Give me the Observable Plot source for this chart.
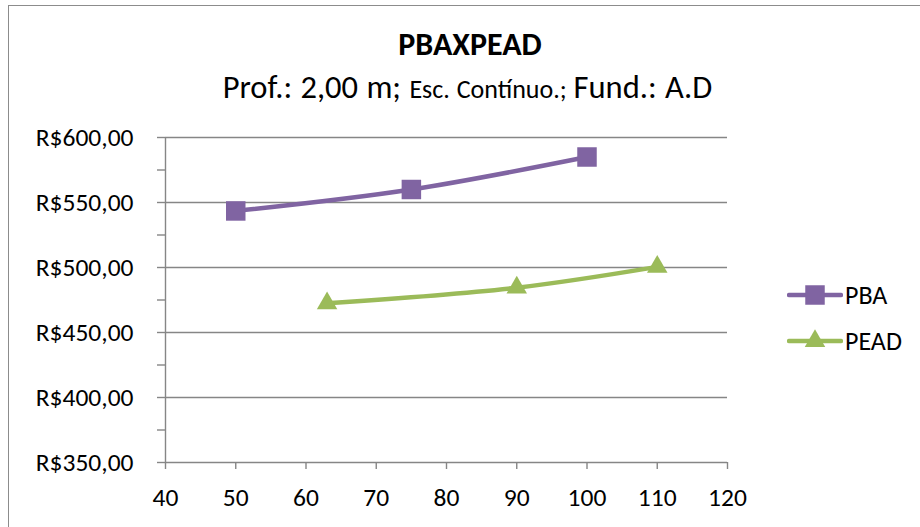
<!DOCTYPE html>
<html>
<head>
<meta charset="utf-8">
<script src="https://cdn.jsdelivr.net/npm/d3@7"></script>
<script src="https://cdn.jsdelivr.net/npm/@observablehq/plot@0.6"></script>
<style>
  html, body { margin: 0; padding: 0; background: #fff; overflow: hidden; }
  #wrap { position: relative; width: 920px; height: 527px; overflow: hidden; font-family: Carlito, Calibri, Lato, sans-serif; color: #000; }
  #frame { position: absolute; left: 8px; top: 5px; width: 940px; height: 560px; border: 1.5px solid #8c8c8c; box-sizing: border-box; }
  #title { position: absolute; left: 0; width: 940px; top: 26px; text-align: center; font-weight: bold; font-size: 32px; line-height: 38px; }
  #subtitle { position: absolute; left: 0; width: 935px; top: 68px; text-align: center; font-size: 32.5px; line-height: 38px; white-space: nowrap; word-spacing: 1px; }
  #subtitle .small { font-size: 26px; }
  #chart { position: absolute; left: 0; top: 0; }
  #legend { position: absolute; left: 787px; top: 280px; font-size: 26px; }
  .item { position: absolute; left: 0; height: 30px; display: flex; align-items: center; white-space: nowrap; }
  .item svg { display: block; margin-right: 2px; }
</style>
</head>
<body>
<div id="wrap">
  <div id="frame"></div>
  <div id="chart"></div>
  <div id="title"></div>
  <div id="subtitle"></div>
  <div id="legend"></div>
</div>
<script>
// ---- data ----
const titleText = "PBAXPEAD";
const subtitleParts = [["Prof.: 2,00 m; ", false], ["Esc. Contínuo.; ", true], ["Fund.: A.D", false]];
const seriesNames = ["PBA", "PEAD"];
const seriesColors = ["#8064A2", "#9BBB59"];
const seriesSymbols = ["square", "triangle"];
const pbaX = [50, 75, 100];
const pbaY = [543.5, 560, 585];
const peadX = [63, 90, 110];
const peadY = [472.5, 484.5, 500.5];
const xTicks = [40, 50, 60, 70, 80, 90, 100, 110, 120];
const yTicks = [350, 375, 400, 425, 450, 475, 500, 525, 550, 575, 600];
const yGrid = [400, 450, 500, 550, 600];
const yLabel = v => v % 50 === 0 ? "R$" + v.toFixed(2).replace(".", ",") : "";

// ---- build ----
const pba = pbaX.map((x, i) => ({x, y: pbaY[i]}));
const pead = peadX.map((x, i) => ({x, y: peadY[i]}));
const grey = "#868686";
const font = "Carlito, Calibri, Lato, sans-serif";

const chart = Plot.plot({
  width: 920,
  height: 527,
  marginTop: 137,
  marginBottom: 65,
  marginLeft: 165,
  marginRight: 193,
  style: {fontFamily: font, fontSize: "25px", color: "#000", background: "transparent"},
  x: {domain: [40, 120]},
  y: {domain: [350, 600]},
  marks: [
    Plot.gridY(yGrid, {stroke: grey, strokeOpacity: 1, strokeWidth: 1.4}),
    Plot.ruleX([40], {stroke: grey, strokeWidth: 1.4}),
    Plot.ruleY([350], {stroke: grey, strokeWidth: 1.4}),
    Plot.axisY({ticks: yTicks, tickFormat: yLabel, tickSize: 8, tickPadding: 24, stroke: grey, strokeWidth: 1.4, strokeOpacity: 1, fill: "#000", fontSize: 25.5, label: null}),
    Plot.axisX({ticks: xTicks, tickFormat: d => String(d), tickSize: 7, tickPadding: 18, stroke: grey, strokeWidth: 1.4, strokeOpacity: 1, fill: "#000", fontSize: 25.5, label: null}),
    Plot.line(pba, {x: "x", y: "y", stroke: seriesColors[0], strokeWidth: 4.5, curve: "catmull-rom"}),
    Plot.line(pead, {x: "x", y: "y", stroke: seriesColors[1], strokeWidth: 4.5, curve: "catmull-rom"}),
    Plot.dot(pba, {x: "x", y: "y", symbol: seriesSymbols[0], fill: seriesColors[0], r: 11}),
    Plot.dot(pead, {x: "x", y: "y", symbol: seriesSymbols[1], fill: seriesColors[1], r: 7.6})
  ]
});
document.getElementById("chart").appendChild(chart);

document.getElementById("title").textContent = titleText;
const sub = document.getElementById("subtitle");
subtitleParts.forEach(([t, small]) => {
  const s = document.createElement("span");
  s.textContent = t;
  if (small) s.className = "small";
  sub.appendChild(s);
});

const legend = document.getElementById("legend");
seriesNames.forEach((name, i) => {
  const item = document.createElement("div");
  item.className = "item";
  item.style.top = (i * 46) + "px";
  const svg = d3.create("svg").attr("width", 56).attr("height", 30);
  svg.append("line").attr("x1", 2).attr("x2", 54).attr("y1", 15).attr("y2", 15)
    .attr("stroke", seriesColors[i]).attr("stroke-width", 4.5).attr("stroke-linecap", "round");
  const sym = i === 0 ? d3.symbolSquare : d3.symbolTriangle;
  const size = i === 0 ? Math.PI * 11 * 11 : Math.PI * 7.6 * 7.6;
  svg.append("path").attr("d", d3.symbol(sym, size)()).attr("transform", "translate(28,15)").attr("fill", seriesColors[i]);
  item.appendChild(svg.node());
  const label = document.createElement("span");
  label.textContent = name;
  item.appendChild(label);
  legend.appendChild(item);
});
</script>
</body>
</html>
